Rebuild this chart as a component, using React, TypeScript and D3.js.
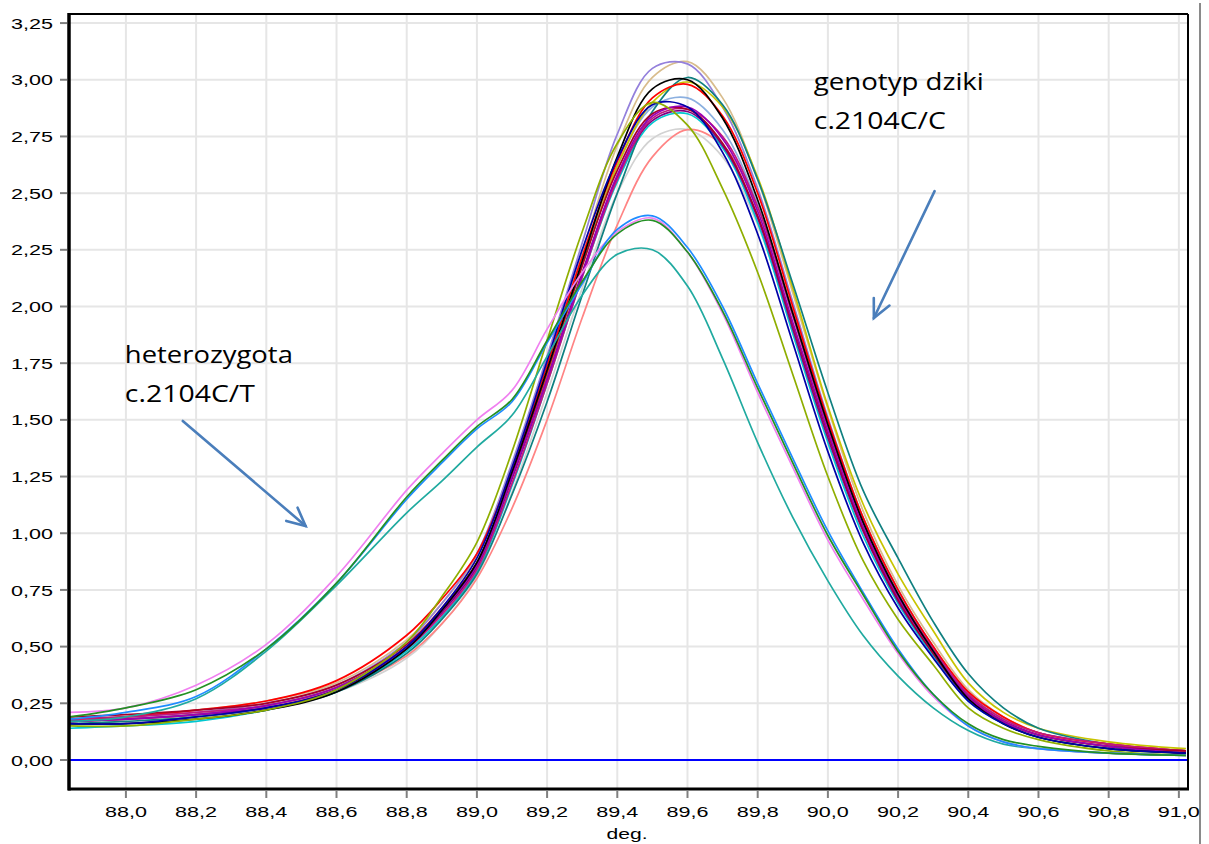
import React from "react";
import * as d3 from "d3";

const temps = [87.84, 88.0, 88.2, 88.4, 88.6, 88.8, 88.9, 89.0, 89.1, 89.2, 89.3, 89.4, 89.5, 89.6, 89.7, 89.8, 89.9, 90.0, 90.1, 90.2, 90.3, 90.4, 90.5, 90.6, 90.8, 91.02];

const wildMediumPurple = [0.18,0.19,0.21,0.25,0.33,0.52,0.69,0.91,1.31,1.78,2.28,2.76,3.05,3.07,2.88,2.52,2.02,1.51,1.07,0.75,0.50,0.29,0.18,0.12,0.07,0.04];
const wildTan = [0.18,0.19,0.22,0.26,0.34,0.53,0.69,0.90,1.29,1.75,2.24,2.71,3.01,3.08,2.92,2.56,2.06,1.55,1.10,0.77,0.52,0.31,0.19,0.12,0.07,0.04];
const wildBlack = [0.16,0.16,0.18,0.22,0.30,0.49,0.66,0.87,1.27,1.72,2.20,2.66,2.96,3.00,2.83,2.47,1.97,1.48,1.05,0.73,0.48,0.27,0.16,0.10,0.05,0.03];
const wildTeal = [0.16,0.17,0.19,0.23,0.30,0.47,0.62,0.82,1.17,1.58,2.05,2.50,2.86,3.01,2.89,2.56,2.10,1.62,1.19,0.89,0.61,0.38,0.23,0.14,0.07,0.04];
const wildRed = [0.18,0.19,0.22,0.26,0.35,0.55,0.71,0.91,1.28,1.74,2.22,2.64,2.92,2.98,2.84,2.50,2.00,1.50,1.07,0.75,0.50,0.30,0.19,0.12,0.07,0.04];
const wildYellow = [0.17,0.18,0.20,0.24,0.32,0.50,0.66,0.87,1.25,1.70,2.18,2.62,2.90,2.99,2.88,2.57,2.08,1.56,1.13,0.82,0.57,0.34,0.21,0.14,0.08,0.05];
const wildSteelBlue = [0.17,0.18,0.20,0.24,0.32,0.50,0.66,0.87,1.26,1.71,2.19,2.62,2.88,2.92,2.78,2.45,1.96,1.47,1.05,0.74,0.49,0.29,0.18,0.11,0.06,0.04];
const wildOlive = [0.15,0.15,0.18,0.22,0.31,0.52,0.72,0.96,1.36,1.85,2.33,2.72,2.90,2.80,2.52,2.15,1.70,1.25,0.88,0.62,0.42,0.23,0.14,0.09,0.04,0.02];
const wildNavy = [0.16,0.16,0.19,0.23,0.31,0.50,0.67,0.89,1.29,1.76,2.25,2.65,2.89,2.88,2.68,2.32,1.84,1.36,0.96,0.67,0.45,0.26,0.16,0.10,0.05,0.03];
const wildMagenta = [0.17,0.18,0.20,0.24,0.32,0.50,0.66,0.86,1.25,1.68,2.14,2.58,2.84,2.88,2.74,2.42,1.93,1.45,1.03,0.72,0.48,0.28,0.17,0.11,0.06,0.03];
const wildDarkRed = [0.19,0.20,0.22,0.25,0.33,0.51,0.67,0.87,1.26,1.71,2.18,2.60,2.85,2.87,2.72,2.40,1.92,1.44,1.02,0.71,0.47,0.28,0.17,0.11,0.06,0.04];
const wildVioletRed = [0.18,0.19,0.21,0.24,0.32,0.49,0.64,0.84,1.22,1.66,2.13,2.56,2.83,2.87,2.75,2.44,1.96,1.47,1.05,0.73,0.49,0.29,0.18,0.12,0.07,0.04];
const wildPurple = [0.17,0.18,0.20,0.23,0.31,0.49,0.65,0.85,1.24,1.68,2.15,2.57,2.82,2.86,2.71,2.39,1.90,1.42,1.01,0.70,0.47,0.27,0.17,0.11,0.06,0.03];
const wildTurquoise = [0.14,0.15,0.17,0.22,0.30,0.48,0.63,0.83,1.21,1.66,2.13,2.55,2.81,2.85,2.70,2.37,1.88,1.40,0.99,0.69,0.46,0.26,0.16,0.10,0.05,0.03];
const wildGray = [0.16,0.17,0.19,0.23,0.30,0.45,0.60,0.81,1.18,1.62,2.08,2.50,2.74,2.78,2.66,2.36,1.90,1.43,1.02,0.71,0.47,0.28,0.17,0.11,0.06,0.03];
const wildSalmon = [0.17,0.18,0.20,0.24,0.31,0.46,0.60,0.80,1.11,1.50,1.95,2.36,2.66,2.78,2.71,2.44,1.98,1.50,1.07,0.75,0.50,0.30,0.19,0.12,0.07,0.04];

const hetViolet = [0.21,0.23,0.33,0.51,0.81,1.19,1.35,1.50,1.63,1.90,2.15,2.33,2.39,2.24,1.97,1.62,1.29,0.97,0.71,0.47,0.28,0.15,0.08,0.05,0.03,0.02];
const hetBlue = [0.18,0.21,0.28,0.49,0.78,1.15,1.31,1.46,1.58,1.84,2.10,2.34,2.40,2.26,2.00,1.66,1.33,1.01,0.74,0.49,0.29,0.15,0.08,0.05,0.03,0.02];
const hetGreen = [0.19,0.23,0.31,0.49,0.78,1.16,1.32,1.47,1.59,1.85,2.11,2.32,2.38,2.24,1.98,1.64,1.31,0.99,0.73,0.48,0.29,0.16,0.09,0.06,0.03,0.02];
const hetSeaGreen = [0.17,0.19,0.27,0.48,0.77,1.09,1.23,1.38,1.52,1.78,2.05,2.23,2.25,2.09,1.77,1.40,1.07,0.79,0.55,0.37,0.23,0.13,0.07,0.05,0.03,0.02];

const xTicks = [88.0, 88.2, 88.4, 88.6, 88.8, 89.0, 89.2, 89.4, 89.6, 89.8, 90.0, 90.2, 90.4, 90.6, 90.8, 91.0];
const yTicks = [0, 0.25, 0.5, 0.75, 1.0, 1.25, 1.5, 1.75, 2.0, 2.25, 2.5, 2.75, 3.0, 3.25];

const series = [
  { values: wildGray, color: "#d2d2d2" },
  { values: wildSalmon, color: "#ff8484" },
  { values: wildTurquoise, color: "#00c8d0" },
  { values: wildSteelBlue, color: "#8cb0e0" },
  { values: wildTan, color: "#d8bc8c" },
  { values: wildMediumPurple, color: "#9480dc" },
  { values: wildYellow, color: "#c8c400" },
  { values: wildTeal, color: "#108080" },
  { values: wildRed, color: "#ff0000" },
  { values: wildPurple, color: "#800080" },
  { values: wildVioletRed, color: "#c0187f" },
  { values: wildDarkRed, color: "#a80028" },
  { values: wildMagenta, color: "#9b00b4" },
  { values: wildBlack, color: "#000000" },
  { values: wildNavy, color: "#0000a8" },
  { values: wildOlive, color: "#8fae00" },
  { values: hetSeaGreen, color: "#20aaa0" },
  { values: hetViolet, color: "#f080f0" },
  { values: hetBlue, color: "#1e8cff" },
  { values: hetGreen, color: "#239023" },
];

// annotation anchors in data units
const hetLabel = { x: 87.997, lines: ["heterozygota", "c.2104C/T"], y: [1.75, 1.578], widths: [168, 130] };
const wildLabel = { x: 89.96, lines: ["genotyp dziki", "c.2104C/C"], y: [2.954, 2.782], widths: [170, 132] };
const hetArrow = { x1: 88.162, y1: 1.495, x2: 88.512, y2: 1.032 };
const wildArrow = { x1: 90.304, y1: 2.509, x2: 90.131, y2: 1.949 };

const fmt = (v: number, d: number) => v.toFixed(d).replace(".", ",");

export default function App() {
  const left = 68, right = 1188, top = 14, bottom = 789;
  const x = d3.scaleLinear().domain([87.835, 91.026]).range([left, right]);
  const y = d3.scaleLinear().domain([-0.128, 3.29]).range([bottom, top]);
  const line = d3
    .line<number>()
    .x((_, i) => x(temps[i]))
    .y((v) => y(v))
    .curve(d3.curveCatmullRom.alpha(0.5));

  const arrow = (a: { x1: number; y1: number; x2: number; y2: number }, key: string) => {
    const X1 = x(a.x1), Y1 = y(a.y1), X2 = x(a.x2), Y2 = y(a.y2);
    const ang = Math.atan2(Y2 - Y1, X2 - X1);
    const L = 20, spread = 0.45;
    const p1 = [X2 - L * Math.cos(ang - spread), Y2 - L * Math.sin(ang - spread)];
    const p2 = [X2 - L * Math.cos(ang + spread), Y2 - L * Math.sin(ang + spread)];
    return (
      <g key={key} stroke="#4a7ebb" strokeWidth={2.6} fill="none" strokeLinecap="round">
        <line x1={X1} y1={Y1} x2={X2} y2={Y2} />
        <polyline points={`${p1[0]},${p1[1]} ${X2},${Y2} ${p2[0]},${p2[1]}`} />
      </g>
    );
  };

  return (
    <svg width={1209} height={844} style={{ position: "absolute", left: 0, top: 0, background: "#fff" }}>
      <rect x={0} y={0} width={1209} height={844} fill="#fff" />
      {/* grid */}
      <g stroke="#e6e6e6" strokeWidth={2}>
        {xTicks.map((t) => (
          <line key={"gx" + t} x1={x(t)} x2={x(t)} y1={top} y2={bottom} />
        ))}
        {yTicks.filter((t) => t > 0).map((t) => (
          <line key={"gy" + t} x1={left} x2={right} y1={y(t)} y2={y(t)} />
        ))}
      </g>
      {/* zero line */}
      <line x1={left} x2={right} y1={y(0)} y2={y(0)} stroke="#0000ff" strokeWidth={2} />
      {/* curves */}
      <g fill="none" strokeWidth={1.7} strokeLinejoin="round">
        {series.map((s, i) => (
          <path key={i} d={line(s.values) || ""} stroke={s.color} />
        ))}
      </g>
      {/* frame */}
      <line x1={left} x2={right} y1={top} y2={top} stroke="#000" strokeWidth={2} />
      <line x1={right} x2={right} y1={top} y2={bottom} stroke="#000" strokeWidth={2} />
      <line x1={left + 1} x2={left + 1} y1={top - 1} y2={bottom + 1.5} stroke="#000" strokeWidth={3.5} />
      <line x1={left} x2={right + 1} y1={bottom} y2={bottom} stroke="#000" strokeWidth={3} />
      <line x1={1200} x2={1200} y1={3} y2={844} stroke="#8a8a8a" strokeWidth={2} />
      {/* axes */}
      <g fontFamily="'Liberation Sans', Arial, sans-serif" fontSize={15.5} fill="#000">
        {yTicks.map((t) => (
          <g key={"yt" + t}>
            <line x1={60} x2={67} y1={y(t)} y2={y(t)} stroke="#808080" strokeWidth={2} />
            <text x={53} y={y(t) + 5.6} textAnchor="end" textLength={42} lengthAdjust="spacingAndGlyphs">
              {fmt(t, 2)}
            </text>
          </g>
        ))}
        {xTicks.map((t) => (
          <g key={"xt" + t}>
            <line x1={x(t)} x2={x(t)} y1={bottom + 1} y2={bottom + 9} stroke="#808080" strokeWidth={2} />
            <text x={x(t)} y={817} textAnchor="middle" textLength={42} lengthAdjust="spacingAndGlyphs">
              {fmt(t, 1)}
            </text>
          </g>
        ))}
        <text x={627} y={839} textAnchor="middle" textLength={41} lengthAdjust="spacingAndGlyphs">
          deg.
        </text>
      </g>
      {/* annotations */}
      <g fontFamily="'Open Sans', 'Noto Sans', sans-serif" fontSize={24} fill="#000">
        {hetLabel.lines.map((s, i) => (
          <text key={"h" + i} x={x(hetLabel.x)} y={y(hetLabel.y[i])} textLength={hetLabel.widths[i]} lengthAdjust="spacingAndGlyphs">
            {s}
          </text>
        ))}
        {wildLabel.lines.map((s, i) => (
          <text key={"w" + i} x={x(wildLabel.x)} y={y(wildLabel.y[i])} textLength={wildLabel.widths[i]} lengthAdjust="spacingAndGlyphs">
            {s}
          </text>
        ))}
      </g>
      {arrow(hetArrow, "a1")}
      {arrow(wildArrow, "a2")}
    </svg>
  );
}
